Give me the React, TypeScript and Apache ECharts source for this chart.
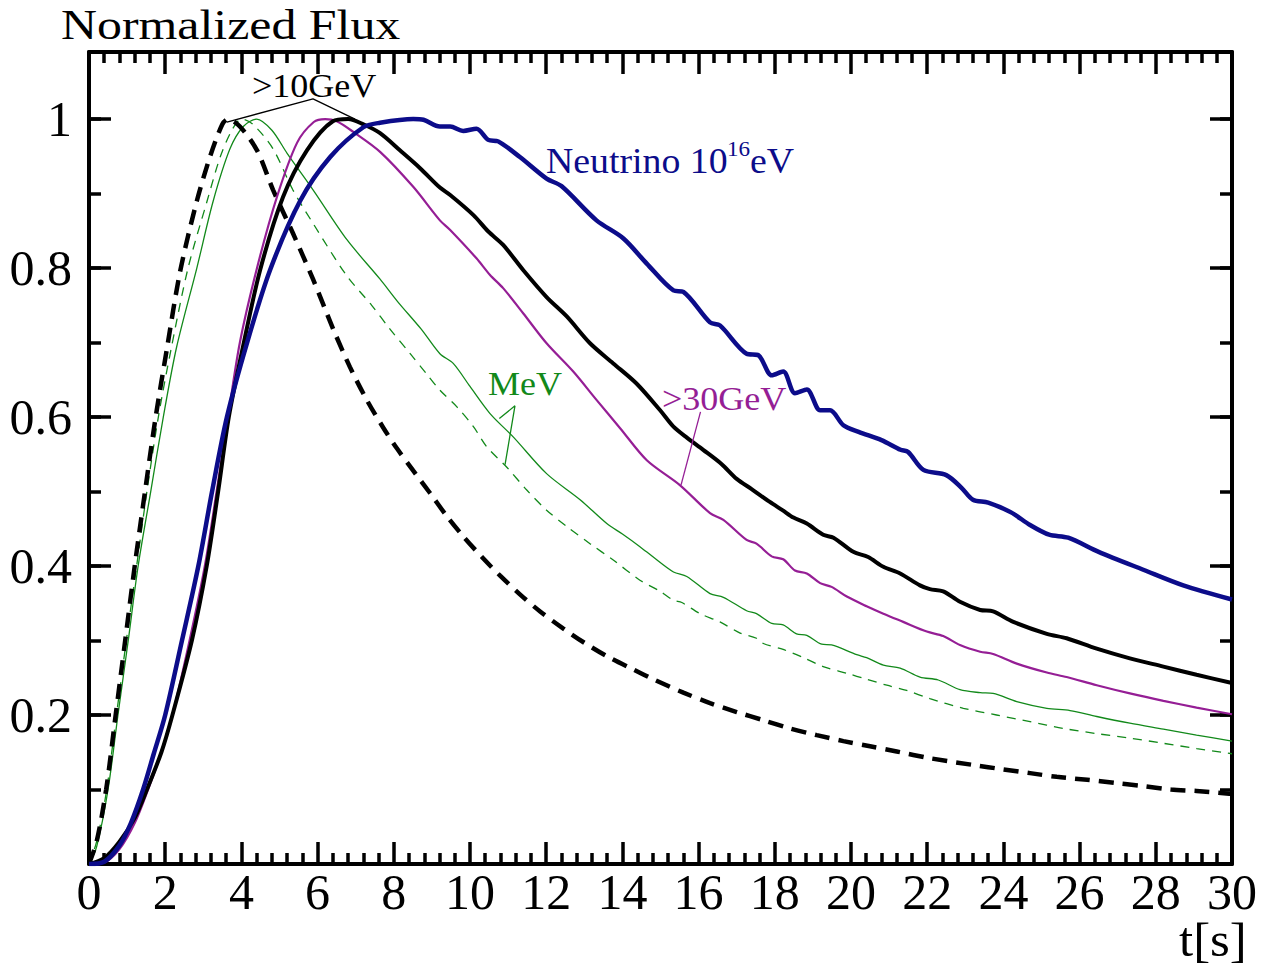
import React, { useEffect, useRef } from "react";
import * as echarts from "echarts";

// ---------- data (t [s], normalized flux) ----------
const neutrino16eV: [number, number][] = [
  [0, 0], [0.4, 0.003], [0.8, 0.025], [1.1, 0.055], [1.42, 0.1], [1.7, 0.148], [2.0, 0.2], [2.44, 0.3],
  [2.87, 0.4], [3.23, 0.5], [3.62, 0.6], [4.15, 0.7], [4.75, 0.797], [5.54, 0.89], [6.33, 0.949],
  [7.2, 0.989], [7.64, 0.995], [8.51, 1.0], [8.78, 0.999], [9.21, 0.99], [9.48, 0.99], [9.82, 0.984],
  [10.17, 0.987], [10.48, 0.972], [10.74, 0.97], [11.31, 0.949], [12.01, 0.92], [12.4, 0.91],
  [13.32, 0.864], [14.02, 0.84], [14.64, 0.806], [15.34, 0.77], [15.6, 0.768], [16.3, 0.727],
  [16.56, 0.723], [17.26, 0.685], [17.57, 0.683], [17.92, 0.656], [18.22, 0.661], [18.53, 0.632],
  [18.84, 0.637], [19.19, 0.609], [19.45, 0.609], [19.8, 0.589], [20.2, 0.58], [20.8, 0.569],
  [21.3, 0.556], [21.5, 0.553], [21.9, 0.529], [22.5, 0.522], [22.9, 0.505], [23.2, 0.489],
  [23.6, 0.485], [24.2, 0.472], [24.7, 0.455], [25.2, 0.442], [25.7, 0.438], [26.5, 0.419],
  [27.67, 0.395], [28.72, 0.374], [30, 0.355],
];

const gev10Solid: [number, number][] = [
  [0, 0], [0.4, 0.008], [0.8, 0.03], [1.2, 0.062], [1.52, 0.1], [1.9, 0.15], [2.19, 0.2], [2.7, 0.3],
  [3.09, 0.4], [3.39, 0.5], [3.67, 0.6], [4.04, 0.694], [4.49, 0.797], [5.09, 0.895], [5.72, 0.958],
  [6.4, 0.997], [6.8, 1.0], [7.2, 0.993], [7.64, 0.981], [8.16, 0.958], [8.69, 0.934], [9.21, 0.908],
  [9.48, 0.898], [10.09, 0.871], [10.48, 0.849], [10.87, 0.831], [11.4, 0.797], [12.01, 0.761],
  [12.54, 0.735], [13.15, 0.699], [13.76, 0.672], [14.37, 0.645], [14.99, 0.609], [15.34, 0.587],
  [15.7, 0.572], [16.12, 0.556], [16.6, 0.537], [17.0, 0.517], [17.4, 0.503], [17.87, 0.486],
  [18.2, 0.475], [18.49, 0.465], [18.84, 0.457], [19.27, 0.442], [19.54, 0.438], [20.06, 0.419],
  [20.45, 0.412], [20.85, 0.399], [21.29, 0.39], [21.81, 0.374], [22.07, 0.369], [22.42, 0.366],
  [22.86, 0.352], [23.39, 0.341], [23.73, 0.339], [24.26, 0.325], [25.14, 0.309], [25.66, 0.303],
  [26.45, 0.289], [27.32, 0.276], [28.2, 0.265], [29.07, 0.254], [30, 0.243],
];

const gev10Dashed: [number, number][] = [
  [0, 0], [0.2, 0.03], [0.45, 0.1], [0.7, 0.2], [0.95, 0.3], [1.2, 0.4], [1.47, 0.5], [1.75, 0.6],
  [2.04, 0.69], [2.39, 0.795], [2.83, 0.89], [3.18, 0.95], [3.5, 0.993], [3.65, 1.0], [3.96, 0.99],
  [4.41, 0.958], [4.83, 0.905], [5.35, 0.847], [5.88, 0.785], [6.41, 0.718], [6.85, 0.667],
  [7.29, 0.623], [7.72, 0.586], [8.08, 0.558], [8.51, 0.528], [8.95, 0.498], [9.39, 0.467],
  [9.82, 0.44], [10.35, 0.41], [10.79, 0.387], [11.31, 0.362], [11.84, 0.339], [12.45, 0.316],
  [12.97, 0.298], [13.59, 0.279], [14.29, 0.261], [14.81, 0.248], [15.6, 0.23], [16.3, 0.216],
  [17.0, 0.204], [17.7, 0.193], [18.4, 0.182], [19.1, 0.173], [19.8, 0.165], [20.5, 0.158],
  [21.2, 0.151], [22.07, 0.142], [23.2, 0.133], [24.0, 0.127], [24.7, 0.122], [25.4, 0.117],
  [26.2, 0.113], [26.9, 0.109], [27.6, 0.105], [28.4, 0.1], [29.07, 0.098], [30, 0.094],
];

const gev30: [number, number][] = [
  [0, 0], [0.4, 0.002], [0.8, 0.02], [1.2, 0.055], [1.55, 0.1], [1.9, 0.15], [2.19, 0.2], [2.64, 0.3],
  [3.04, 0.4], [3.35, 0.5], [3.65, 0.6], [3.96, 0.7], [4.41, 0.8], [4.93, 0.895], [5.46, 0.968],
  [5.9, 0.996], [6.2, 1.0], [6.5, 0.997], [6.93, 0.983], [7.64, 0.956], [8.51, 0.909], [9.21, 0.864], [9.48, 0.851],
  [10.17, 0.813], [10.52, 0.791], [10.87, 0.773], [11.4, 0.739], [12.01, 0.699], [12.71, 0.661],
  [13.32, 0.623], [13.94, 0.585], [14.64, 0.542], [15.5, 0.509], [16.3, 0.471], [16.65, 0.462],
  [17.26, 0.435], [17.52, 0.43], [17.92, 0.413], [18.22, 0.409], [18.53, 0.394], [18.84, 0.39],
  [19.19, 0.377], [19.49, 0.372], [19.89, 0.359], [20.41, 0.346], [20.85, 0.336], [21.37, 0.325],
  [21.99, 0.312], [22.42, 0.306], [22.86, 0.294], [23.39, 0.285], [23.73, 0.282], [24.35, 0.269],
  [25.14, 0.257], [25.66, 0.251], [26.45, 0.24], [27.32, 0.229], [28.2, 0.219], [29.07, 0.21],
  [30, 0.201],
];

const mevSolid: [number, number][] = [
  [0, 0], [0.2, 0.023], [0.5, 0.1], [0.76, 0.2], [1.03, 0.3], [1.29, 0.4], [1.62, 0.5], [1.95, 0.6],
  [2.3, 0.694], [2.83, 0.8], [3.26, 0.89], [3.7, 0.96], [4.05, 0.99], [4.4, 1.0], [4.8, 0.985],
  [5.2, 0.954], [5.88, 0.905], [6.77, 0.838], [7.64, 0.785], [8.1, 0.755], [8.72, 0.718], [9.21, 0.685],
  [9.56, 0.672], [10.0, 0.641], [10.52, 0.605], [11.14, 0.573], [12.01, 0.524], [12.89, 0.489],
  [13.59, 0.457], [14.0, 0.443], [14.46, 0.426], [14.81, 0.412], [15.34, 0.392], [15.69, 0.386],
  [16.3, 0.363], [16.65, 0.358], [17.26, 0.34], [17.52, 0.336], [17.92, 0.323], [18.22, 0.321],
  [18.57, 0.309], [18.84, 0.307], [19.23, 0.295], [19.49, 0.294], [20.15, 0.281], [20.41, 0.277],
  [20.85, 0.267], [21.29, 0.263], [21.81, 0.251], [22.29, 0.247], [22.86, 0.234], [23.39, 0.23],
  [23.73, 0.229], [24.35, 0.218], [25.14, 0.209], [25.75, 0.206], [26.45, 0.198], [27.32, 0.189],
  [28.2, 0.181], [29.07, 0.173], [30, 0.165],
];

const mevDashed: [number, number][] = [
  [0, 0], [0.2, 0.03], [0.45, 0.095], [0.72, 0.2], [0.98, 0.3], [1.25, 0.4], [1.52, 0.5], [1.82, 0.6],
  [2.15, 0.69], [2.6, 0.8], [3.1, 0.89], [3.45, 0.95], [3.75, 0.985], [4.0, 1.0], [4.3, 0.993],
  [4.83, 0.96], [5.35, 0.905], [5.88, 0.86], [6.76, 0.79], [7.42, 0.75], [7.9, 0.718], [8.43, 0.685],
  [8.86, 0.658], [9.21, 0.636], [9.65, 0.614], [10.09, 0.587], [10.44, 0.56], [10.96, 0.533],
  [11.49, 0.502], [12.01, 0.475], [12.54, 0.453], [13.15, 0.43], [13.76, 0.408], [14.46, 0.381],
  [14.99, 0.366], [15.34, 0.354], [15.56, 0.351], [16.04, 0.336], [16.56, 0.325], [17.09, 0.31],
  [17.52, 0.303], [17.7, 0.296], [18.22, 0.288], [18.75, 0.277], [19.27, 0.265], [19.89, 0.256],
  [20.41, 0.248], [20.94, 0.24], [21.46, 0.233], [22.07, 0.222], [22.95, 0.209], [23.82, 0.2],
  [24.7, 0.191], [25.57, 0.182], [26.45, 0.175], [27.32, 0.169], [28.2, 0.162], [29.07, 0.155],
  [30, 0.148],
];

// annotation leader lines (data coordinates)
const gev10Leader: [number, number][] = [[3.62, 0.996], [5.88, 1.027], [6.98, 1.0]];
const mevLeader: [number, number][] = [[10.77, 0.598], [11.18, 0.615], [10.92, 0.536]];
const gev30Leader: [number, number][] = [[16.05, 0.607], [15.54, 0.509]];

// axis settings
const X_MIN = 0;
const X_MAX = 30;
const X_STEP = 2;
const Y_MIN = 0;
const Y_MAX = 1.09;
const Y_STEP = 0.2;
const Y_MINOR_STEP = 0.1;

const FONT = "'Liberation Serif', 'Times New Roman', serif";
const BLUE = "#0c0c8a";
const MAGENTA = "#951e95";
const GREEN = "#12891a";

export default function App() {
  const ref = useRef<HTMLDivElement>(null);

  useEffect(() => {
    if (!ref.current) return;
    const chart = echarts.init(ref.current, null, { renderer: "svg" });

    const axisLineStyle = { color: "#000", width: 4 };
    const tickStyle = { color: "#000", width: 3.5 };

    const xAxisBase = (position: "bottom" | "top", labels: boolean) => ({
      type: "value",
      position,
      min: X_MIN,
      max: X_MAX,
      interval: X_STEP,
      axisLine: { show: true, onZero: false, lineStyle: axisLineStyle },
      axisTick: { show: true, inside: true, length: 22, lineStyle: tickStyle },
      minorTick: { show: true, splitNumber: 5, length: 11, lineStyle: tickStyle },
      splitLine: { show: false },
      minorSplitLine: { show: false },
      axisLabel: labels
        ? { show: true, interval: 0, fontFamily: FONT, fontSize: 50, color: "#000", margin: 3 }
        : { show: false },
    });

    const yAxisMajor = (position: "left" | "right", labels: boolean) => ({
      type: "value",
      position,
      min: Y_MIN,
      max: Y_MAX,
      interval: Y_STEP,
      axisLine: { show: true, onZero: false, lineStyle: axisLineStyle },
      axisTick: { show: true, inside: true, length: 22, lineStyle: tickStyle },
      splitLine: { show: false },
      axisLabel: labels
        ? {
            show: true,
            interval: 0,
            fontFamily: FONT,
            fontSize: 50,
            color: "#000",
            margin: 17,
            formatter: (v: number) => (v > 0.01 && v < 1.05 ? String(+v.toFixed(1)) : ""),
          }
        : { show: false },
    });

    const yAxisMinor = (position: "left" | "right") => ({
      type: "value",
      position,
      min: Y_MIN,
      max: Y_MAX,
      interval: Y_MINOR_STEP,
      axisLine: { show: false, onZero: false },
      axisTick: { show: true, inside: true, length: 12, lineStyle: tickStyle },
      splitLine: { show: false },
      axisLabel: { show: false },
    });

    const curve = (name: string, data: [number, number][], color: string, width: number, type: any, z: number) => ({
      type: "line",
      name,
      data,
      xAxisIndex: 0,
      yAxisIndex: 0,
      symbol: "none",
      showSymbol: false,
      smooth: 0.3,
      silent: true,
      z,
      lineStyle: { color, width, type },
    });

    const leader = (name: string, data: [number, number][], color: string) => ({
      type: "line",
      name,
      data,
      xAxisIndex: 0,
      yAxisIndex: 0,
      symbol: "none",
      showSymbol: false,
      smooth: false,
      silent: true,
      z: 10,
      lineStyle: { color, width: 1.3 },
    });

    const text = (t: string, x: number, yc: number, size: number, color: string, sx: number) => ({
      type: "text",
      x,
      y: yc,
      scaleX: sx,
      silent: true,
      style: {
        text: t,
        x: 0,
        y: 0,
        fill: color,
        fontFamily: FONT,
        fontSize: size,
        lineHeight: Math.round(size * 0.8),
        align: "left",
        verticalAlign: "middle",
      },
    });

    chart.setOption({
      animation: false,
      backgroundColor: "#fff",
      grid: { left: 89, right: 46, top: 52, bottom: 109, containLabel: false, show: false },
      xAxis: [xAxisBase("bottom", true), xAxisBase("top", false)],
      yAxis: [yAxisMajor("left", true), yAxisMinor("left"), yAxisMajor("right", false), yAxisMinor("right")],
      series: [
        curve("MeV (dashed)", mevDashed, GREEN, 1.3, [9, 7], 2),
        curve("MeV", mevSolid, GREEN, 1.3, "solid", 2),
        curve(">10GeV (dashed)", gev10Dashed, "#000", 4.5, [15, 9], 3),
        curve(">30GeV", gev30, MAGENTA, 2.2, "solid", 4),
        curve(">10GeV", gev10Solid, "#000", 4, "solid", 5),
        curve("Neutrino 10^16 eV", neutrino16eV, BLUE, 4.5, "solid", 6),
        leader("gev10 leader", gev10Leader, "#000"),
        leader("mev leader", mevLeader, GREEN),
        leader("gev30 leader", gev30Leader, MAGENTA),
      ],
      graphic: [
        text("Normalized Flux", 61, 24.5, 43, "#000", 1.16),
        text("t[s]", 1179, 940, 48, "#000", 1.06),
        text(">10GeV", 252, 85.5, 34, "#000", 1.06),
        text("MeV", 488, 383.5, 34, GREEN, 1.06),
        text(">30GeV", 662, 399, 34, MAGENTA, 1.06),
        text("Neutrino 10", 546, 161, 36, BLUE, 1.05),
        text("16", 727, 149, 22, BLUE, 1.05),
        text("eV", 750, 161, 36, BLUE, 1.05),
      ],
    });

    return () => chart.dispose();
  }, []);

  return (
    <div
      ref={ref}
      style={{ position: "fixed", left: 0, top: 0, width: 1278, height: 973, background: "#fff" }}
    />
  );
}
